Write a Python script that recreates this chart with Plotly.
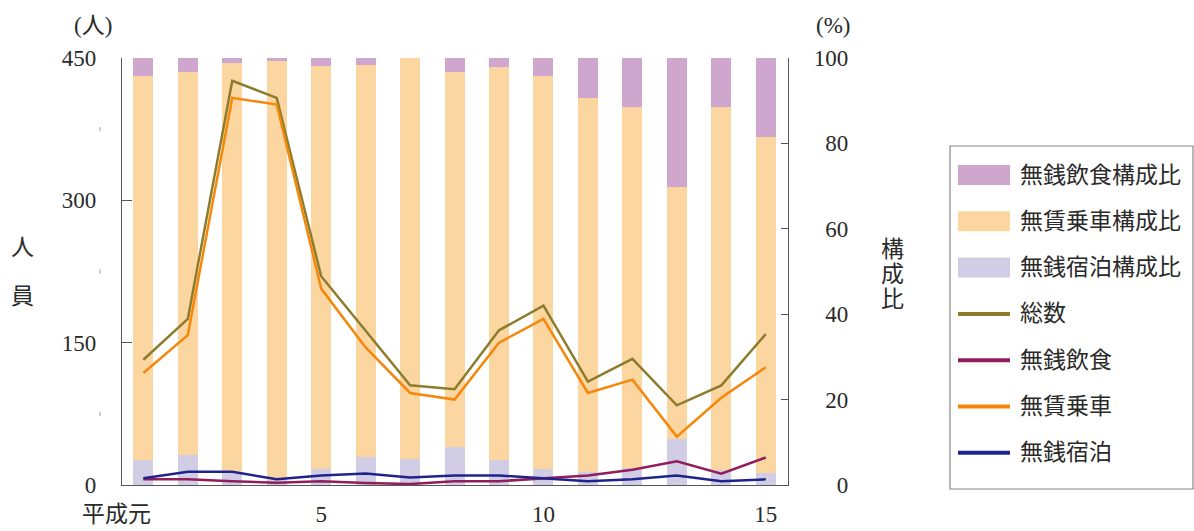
import plotly.graph_objects as go

# ---------------- data ----------------
years = ["平成元", "2", "3", "4", "5", "6", "7", "8", "9", "10", "11", "12", "13", "14", "15"]

total = [132, 175, 426, 408, 220, 162, 105, 101, 163, 189, 109, 133, 84, 105, 159]          # 総数
free_ride = [118, 158, 408, 401, 207, 145, 97, 90, 150, 175, 97, 111, 51, 92, 124]          # 無賃乗車
free_meal = [6, 6, 4, 2.5, 4, 2, 1, 4, 4, 7, 10, 16, 25, 12, 29]                            # 無銭飲食
free_stay = [7, 14, 14, 6, 10, 12, 8, 10, 10, 7, 4, 6, 10, 4, 6]                            # 無銭宿泊

pct_stay = [5.9, 7.0, 3.0, 1.2, 3.7, 6.6, 6.2, 8.8, 5.8, 3.7, 3.0, 4.0, 10.7, 3.5, 2.7]     # 無銭宿泊構成比
pct_ride = [90.0, 89.8, 95.9, 98.1, 94.4, 91.8, 93.8, 87.9, 92.2, 92.1, 87.6, 84.5, 59.1, 85.0, 78.9]  # 無賃乗車構成比
pct_meal = [4.1, 3.2, 1.1, 0.7, 1.9, 1.6, 0.0, 3.3, 2.0, 4.2, 9.4, 11.5, 30.2, 11.5, 18.4]  # 無銭飲食構成比

left_ticks = [0, 150, 300, 450]
left_minor = [75, 225, 375]
right_ticks = [0, 20, 40, 60, 80, 100]
x_tick_vals = ["5", "10", "15"]

# ---------------- style ----------------
C_MEAL_BAR = "#CFA6CD"
C_RIDE_BAR = "#FCD6A1"
C_STAY_BAR = "#D0CDE5"
C_TOTAL = "#8C7D2D"
C_MEAL = "#911E5B"
C_RIDE = "#F5870A"
C_STAY = "#1F238C"
TXT = "#2a2a2a"
AX = "#555555"
FONT = '"Liberation Serif", "Noto Sans CJK JP", serif'
FS = 23

W, H = 1194, 531
L, R, T, B = 122, 788, 58, 485  # plot area in pixels


def px(xp):
    return (xp - L) / (R - L)


def py(yp):
    return (B - yp) / (B - T)


fig = go.Figure()

# bars (percentage, primary y on the right)
for name, vals, col in [("無銭宿泊構成比", pct_stay, C_STAY_BAR),
                        ("無賃乗車構成比", pct_ride, C_RIDE_BAR),
                        ("無銭飲食構成比", pct_meal, C_MEAL_BAR)]:
    fig.add_trace(go.Bar(x=years, y=vals, name=name, marker=dict(color=col, line=dict(width=0)),
                         width=0.45, yaxis="y", showlegend=False))

# lines (counts, y2 on the left)
for name, vals, col in [("総数", total, C_TOTAL),
                        ("無賃乗車", free_ride, C_RIDE),
                        ("無銭飲食", free_meal, C_MEAL),
                        ("無銭宿泊", free_stay, C_STAY)]:
    fig.add_trace(go.Scatter(x=years, y=vals, name=name, mode="lines",
                             line=dict(color=col, width=2.5), yaxis="y2", showlegend=False))

annotations = []
shapes = []

# custom legend
legend_items = [("無銭飲食構成比", C_MEAL_BAR, "box"),
                ("無賃乗車構成比", C_RIDE_BAR, "box"),
                ("無銭宿泊構成比", C_STAY_BAR, "box"),
                ("総数", C_TOTAL, "line"),
                ("無銭飲食", C_MEAL, "line"),
                ("無賃乗車", C_RIDE, "line"),
                ("無銭宿泊", C_STAY, "line")]
shapes.append(dict(type="rect", xref="paper", yref="paper", x0=px(950), x1=px(1193),
                   y0=py(146), y1=py(489), line=dict(color="#888888", width=1.2),
                   fillcolor="rgba(0,0,0,0)"))
for i, (name, col, kind) in enumerate(legend_items):
    yc = 175 + 46.3 * i
    if kind == "box":
        shapes.append(dict(type="rect", xref="paper", yref="paper", x0=px(958), x1=px(1010),
                           y0=py(yc + 10), y1=py(yc - 10), line=dict(width=0), fillcolor=col))
    else:
        shapes.append(dict(type="line", xref="paper", yref="paper", x0=px(958), x1=px(1010),
                           y0=py(yc), y1=py(yc), line=dict(color=col, width=4)))
    annotations.append(dict(text=name, xref="paper", yref="paper", x=px(1018), y=py(yc),
                            xanchor="left", yanchor="middle", showarrow=False,
                            font=dict(family=FONT, size=FS, color=TXT)))

# minor marks on left
for v in left_minor:
    shapes.append(dict(type="line", xref="paper", yref="y2", x0=px(100), x1=px(100),
                       y0=v - 2.2, y1=v + 2.2, line=dict(color="#999999", width=1)))

# units and axis titles
annotations += [
    dict(text="(人)", xref="paper", yref="paper", x=px(93), y=py(26), showarrow=False,
         xanchor="center", yanchor="middle", font=dict(family=FONT, size=FS, color=TXT)),
    dict(text="(%)", xref="paper", yref="paper", x=px(833), y=py(26), showarrow=False,
         xanchor="center", yanchor="middle", font=dict(family=FONT, size=FS, color=TXT)),
    dict(text="人", xref="paper", yref="paper", x=px(22), y=py(247), showarrow=False,
         xanchor="center", yanchor="middle", font=dict(family=FONT, size=FS, color=TXT)),
    dict(text="員", xref="paper", yref="paper", x=px(22), y=py(296), showarrow=False,
         xanchor="center", yanchor="middle", font=dict(family=FONT, size=FS, color=TXT)),
]
for k, ch in enumerate("構成比"):
    annotations.append(dict(text=ch, xref="paper", yref="paper", x=px(892), y=py(249 + 25 * k),
                            showarrow=False, xanchor="center", yanchor="middle",
                            font=dict(family=FONT, size=FS, color=TXT)))
# first x label (shifted left as in the original)
annotations.append(dict(text=years[0], x=years[0], xref="x", yref="paper", y=py(514),
                        xshift=-27, showarrow=False, xanchor="center", yanchor="middle",
                        font=dict(family=FONT, size=FS, color=TXT)))

FSP = "\u2007"
right_text = [FSP * (3 - len(str(v))) + str(v) for v in right_ticks]

fig.update_layout(
    width=W, height=H,
    margin=dict(l=L, r=W - R, t=T, b=H - B, pad=0, autoexpand=False),
    paper_bgcolor="white", plot_bgcolor="white",
    barmode="stack", bargap=0.55,
    font=dict(family=FONT, size=FS, color=TXT),
    xaxis=dict(type="category", range=[-0.48, 14.5], showgrid=False, zeroline=False,
               showline=True, linecolor=AX, linewidth=1.2, ticks="", automargin=False,
               tickmode="array", tickvals=x_tick_vals, ticktext=x_tick_vals,
               tickfont=dict(family=FONT, size=FS, color=TXT), ticklabelstandoff=8),
    yaxis=dict(range=[0, 100], side="right", showgrid=False, zeroline=False, automargin=False,
               showline=True, linecolor=AX, linewidth=1.2, ticks="inside", ticklen=7,
               tickcolor=AX, tickmode="array", tickvals=right_ticks, ticktext=right_text,
               tickfont=dict(family=FONT, size=FS, color=TXT), ticklabelstandoff=20),
    yaxis2=dict(range=[0, 450], side="left", overlaying="y", showgrid=False, zeroline=False,
                showline=True, linecolor=AX, linewidth=1.2, ticks="inside", ticklen=10,
                automargin=False,
                tickcolor=AX, tickmode="array", tickvals=left_ticks,
                tickfont=dict(family=FONT, size=FS, color=TXT), ticklabelstandoff=20),
    annotations=annotations,
    shapes=shapes,
)

fig.write_html("out.html")
